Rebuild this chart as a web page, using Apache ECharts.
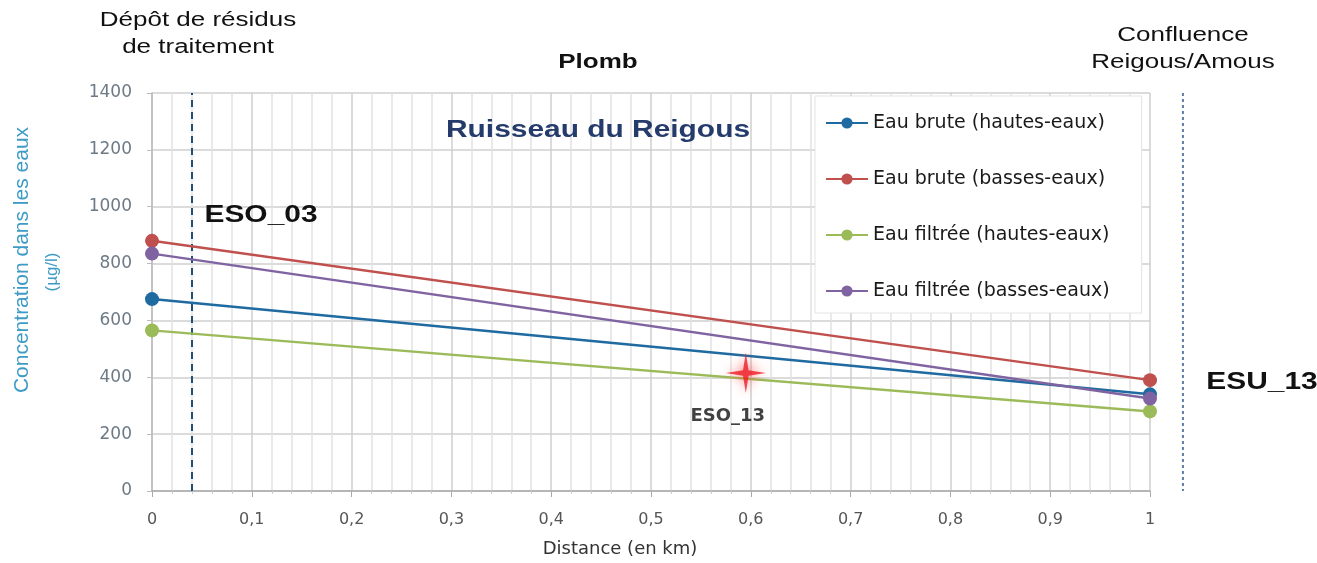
<!DOCTYPE html>
<html>
<head>
<meta charset="utf-8">
<script src="https://cdn.jsdelivr.net/npm/echarts@6/dist/echarts.min.js"></script>
<style>
  html, body { margin: 0; padding: 0; background: #fff; }
  #chart { width: 1317px; height: 563px; }
</style>
</head>
<body>
<div id="chart"></div>
<script>
// Lead (Plomb) concentrations along the Reigous stream, upstream to confluence
const distances = [0, 1];                 // km
const brutHautes = [675, 340];            // Eau brute (hautes-eaux)
const brutBasses = [880, 390];            // Eau brute (basses-eaux)
const filtreHautes = [565, 280];          // Eau filtrée (hautes-eaux)
const filtreBasses = [835, 325];          // Eau filtrée (basses-eaux)
const seriesNames = [
  'Eau brute (hautes-eaux)',
  'Eau brute (basses-eaux)',
  'Eau filtrée (hautes-eaux)',
  'Eau filtrée (basses-eaux)'
];
const seriesColors = ['#1f6aa0', '#c0504d', '#9bbb59', '#8064a2'];

// Intermediate sampling station ESO_13
const esoPoint = [0.595, 415];
// Tailings deposit and confluence positions (km)
const depotDistance = 0.038;
const confluenceDistance = 1.033;

const yTicks = { min: 0, max: 1400, interval: 200 };
const xTicks = { min: 0, max: 1, interval: 0.1 };

const FONT = '"Liberation Sans", Arial, sans-serif';
const WIDE = '"DejaVu Sans", sans-serif';
const STRETCH = 1.3;   // annotation text is set wide

function pairs(values) {
  return distances.map((d, i) => [d, values[i]]);
}

const chart = echarts.init(document.getElementById('chart'));

const lineSeries = [brutHautes, brutBasses, filtreHautes, filtreBasses].map((vals, i) => ({
  name: seriesNames[i],
  type: 'line',
  data: pairs(vals),
  symbol: 'circle',
  symbolSize: 14,
  z: 5 + i,
  lineStyle: { width: 2.5, color: seriesColors[i] },
  itemStyle: { color: seriesColors[i] }
}));

// Tailings deposit marker line
lineSeries[0].markLine = {
  silent: true,
  symbol: 'none',
  label: { show: false },
  lineStyle: { color: '#1f4e79', type: [7, 5], width: 2 },
  data: [{ xAxis: depotDistance }]
};

// Wide annotation text helper
function note(x, y, text, font, fill, extra) {
  return Object.assign({
    type: 'text', x: x, y: y, scaleX: STRETCH, z: 30,
    style: {
      x: 0, y: 0, text: text,
      textAlign: 'center', textVerticalAlign: 'middle',
      fill: fill || '#111', font: font, lineHeight: 27
    }
  }, extra || {});
}

const option = {
  animation: false,
  backgroundColor: '#ffffff',
  textStyle: { fontFamily: FONT },
  grid: { left: 152, right: 167, top: 93, bottom: 72 },
  xAxis: {
    type: 'value',
    min: xTicks.min,
    max: xTicks.max,
    interval: xTicks.interval,
    name: 'Distance (en km)',
    nameLocation: 'middle',
    nameGap: 49,
    nameTextStyle: { color: '#333', fontSize: 18, fontFamily: WIDE, padding: [0, 62, 0, 0] },
    axisLine: { lineStyle: { color: '#aaaaaa', width: 1.5 } },
    axisTick: { show: true, length: 6, lineStyle: { color: '#aaaaaa' } },
    axisLabel: {
      color: '#555',
      fontSize: 16,
      margin: 21,
      fontFamily: WIDE,
      formatter: v => String(Math.round(v * 10) / 10).replace('.', ',')
    },
    splitLine: { show: true, lineStyle: { color: '#cfcfcf', width: 1.5 } },
    minorTick: { show: true, splitNumber: 5, length: 3, lineStyle: { color: '#cccccc' } },
    minorSplitLine: { show: true, lineStyle: { color: '#e2e2e2', width: 1.5 } }
  },
  yAxis: {
    type: 'value',
    min: yTicks.min,
    max: yTicks.max,
    interval: yTicks.interval,
    axisLine: { show: true, lineStyle: { color: '#bbbbbb', width: 1.5 } },
    axisTick: { show: true, length: 5, lineStyle: { color: '#bbbbbb' } },
    axisLabel: {
      color: '#6d7a86', fontSize: 17, margin: 20, fontFamily: WIDE,
      formatter: v => String(v)
    },
    splitLine: { show: true, lineStyle: { color: '#cfcfcf', width: 1.5 } }
  },
  legend: {
    orient: 'vertical',
    left: 815,
    top: 96,
    data: seriesNames,
    itemWidth: 42,
    itemHeight: 14,
    itemGap: 34,
    padding: [16, 32, 11, 10],
    backgroundColor: '#ffffff',
    borderColor: '#e3e3e3',
    borderWidth: 1,
    textStyle: { color: '#1a1a1a', fontSize: 19, fontFamily: WIDE, lineHeight: 22 }
  },
  series: lineSeries.concat([
    {
      name: 'ESO_13',
      type: 'scatter',
      data: [esoPoint],
      symbol: 'path://M50,0 L57,43 L100,50 L57,57 L50,100 L43,57 L0,50 L43,43 Z',
      symbolSize: 40,
      z: 20,
      itemStyle: { color: '#ee1c24', shadowColor: 'rgba(255,60,60,0.9)', shadowBlur: 12 },
      label: {
        show: true,
        position: 'bottom',
        distance: 4,
        offset: [-18, 10],
        formatter: 'ESO_13',
        color: '#111',
        fontSize: 18,
        fontWeight: 'bold',
        fontFamily: WIDE
      }
    }
  ]),
  graphic: [
    note(198, 34, 'Dépôt de résidus\nde traitement', '20px ' + FONT),
    note(598, 62, 'Plomb', 'bold 20px ' + FONT),
    note(1183, 49, 'Confluence\nReigous/Amous', '20px ' + FONT),
    note(598, 131, 'Ruisseau du Reigous', 'bold 23px ' + FONT, '#243b6b'),
    note(261, 216, 'ESO_03', 'bold 23px ' + FONT),
    note(1262, 383, 'ESU_13', 'bold 23px ' + FONT),
    {
      type: 'text',
      rotation: Math.PI / 2, x: 22, y: 260,
      style: {
        x: 0, y: 0, text: 'Concentration dans les eaux',
        textAlign: 'center', textVerticalAlign: 'middle',
        fill: '#3d9bc6', font: '21px ' + FONT
      }
    },
    {
      type: 'text',
      rotation: Math.PI / 2, x: 52, y: 272,
      style: {
        x: 0, y: 0, text: '(µg/l)',
        textAlign: 'center', textVerticalAlign: 'middle',
        fill: '#3d9bc6', font: '17px ' + FONT
      }
    }
  ]
};

chart.setOption(option);

// Confluence marker sits just past the end of the distance axis
const lineTop = chart.convertToPixel({ xAxisIndex: 0, yAxisIndex: 0 }, [confluenceDistance, yTicks.max]);
const lineBottom = chart.convertToPixel({ xAxisIndex: 0, yAxisIndex: 0 }, [confluenceDistance, yTicks.min]);
const graphics = option.graphic.slice();
graphics.push({
  type: 'line',
  silent: true,
  shape: { x1: lineTop[0], y1: lineTop[1], x2: lineBottom[0], y2: lineBottom[1] },
  style: { stroke: '#5f7f9f', lineWidth: 2, lineDash: [3, 3] }
});
chart.setOption({ graphic: graphics });
</script>
</body>
</html>
